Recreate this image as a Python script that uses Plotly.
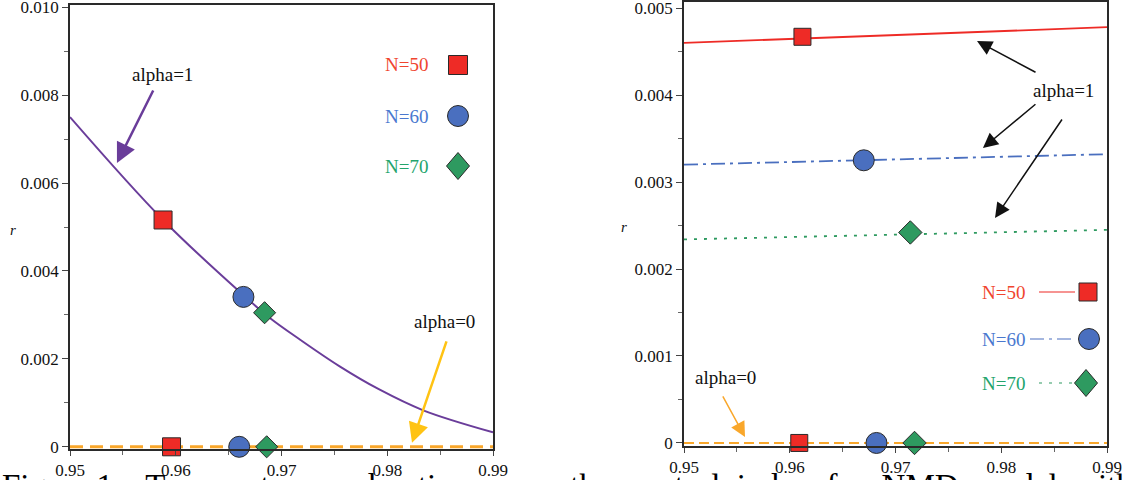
import plotly.graph_objects as go

W, H = 1123, 480

# ---------------- data ----------------
# left panel: alpha=1 curve
left_curve_x = [0.9500, 0.9588, 0.9664, 0.9689, 0.9718, 0.9755, 0.9792, 0.9834, 0.9900]
left_curve_r = [0.00750, 0.00516, 0.00345, 0.00293, 0.00243, 0.00183, 0.00131, 0.00083, 0.00033]
# left panel: alpha=0 line
left_zero_x = [0.95, 0.99]
left_zero_r = [0.0, 0.0]
# left panel points (alpha=1, alpha=0) for N=50, 60, 70
left_a1_x = [0.9588, 0.9664, 0.9684]
left_a1_r = [0.00516, 0.00341, 0.00305]
left_a0_x = [0.9596, 0.9660, 0.9686]
left_a0_r = [0.0, 0.0, 0.0]

# right panel: alpha=1 lines for N=50, 60, 70
right_line_x = [0.95, 0.99]
right_n50_r = [0.00460, 0.00478]
right_n60_r = [0.00320, 0.00332]
right_n70_r = [0.00234, 0.00245]
right_zero_r = [0.0, 0.0]
# right panel points
right_a1_x = [0.9612, 0.9670, 0.9714]
right_a1_r = [0.00467, 0.00325, 0.00242]
right_a0_x = [0.9609, 0.9682, 0.9718]
right_a0_r = [0.0, 0.0, 0.0]

series_names = ["N=50", "N=60", "N=70"]
x_ticks = [0.95, 0.96, 0.97, 0.98, 0.99]
x_tick_text = ["0.95", "0.96", "0.97", "0.98", "0.99"]
left_y_ticks = [0, 0.002, 0.004, 0.006, 0.008, 0.010]
left_y_text = ["0", "0.002", "0.004", "0.006", "0.008", "0.010"]
right_y_ticks = [0, 0.001, 0.002, 0.003, 0.004, 0.005]
right_y_text = ["0", "0.001", "0.002", "0.003", "0.004", "0.005"]

caption = ("Figure 1.\u00a0\u00a0 Temperature\u00a0 and\u00a0 ratio\u00a0 versus\u00a0 the\u00a0 "
           "control\u00a0 index\u00a0 for\u00a0 NMD\u00a0 model\u00a0 with")

# ---------------- styles ----------------
RED = "#EE2B26"
BLUE = "#4A6FBF"
GREEN = "#2E9A60"
PURPLE = "#6A3D9A"
ORANGE = "#F9A72B"
YELLOW = "#FFC313"
TXT_RED = "#F0452F"
TXT_BLUE = "#4A78CF"
TXT_GREEN = "#23A46C"
SERIF = "Liberation Serif"
marker_symbols = ["square", "circle", "diamond"]
marker_colors = [RED, BLUE, GREEN]
marker_sizes = [18, 21, 17]

fig = go.Figure()

# left panel
fig.add_trace(go.Scatter(x=left_zero_x, y=left_zero_r, mode="lines",
                         line=dict(color=ORANGE, width=3, dash="13px,7px"),
                         xaxis="x", yaxis="y", showlegend=False))
fig.add_trace(go.Scatter(x=left_curve_x, y=left_curve_r, mode="lines",
                         line=dict(color=PURPLE, width=2, shape="spline", smoothing=1.0),
                         xaxis="x", yaxis="y", showlegend=False))
for i in range(3):
    for xs, ys in ((left_a1_x, left_a1_r), (left_a0_x, left_a0_r)):
        fig.add_trace(go.Scatter(x=[xs[i]], y=[ys[i]], mode="markers", name=series_names[i],
                                 marker=dict(symbol=marker_symbols[i], size=marker_sizes[i],
                                             color=marker_colors[i],
                                             line=dict(color="#2a2a2a", width=1)),
                                 xaxis="x", yaxis="y", showlegend=False, cliponaxis=False))

# right panel
fig.add_trace(go.Scatter(x=right_line_x, y=right_zero_r, mode="lines",
                         line=dict(color=ORANGE, width=2, dash="10px,5px"),
                         xaxis="x2", yaxis="y2", showlegend=False))
right_lines = [right_n50_r, right_n60_r, right_n70_r]
right_dash = ["solid", "14px,5px,3px,5px", "3px,7px"]
for i in range(3):
    fig.add_trace(go.Scatter(x=right_line_x, y=right_lines[i], mode="lines",
                             line=dict(color=marker_colors[i], width=1.8, dash=right_dash[i]),
                             xaxis="x2", yaxis="y2", showlegend=False))
right_sizes = [17, 21, 18]
for i in range(3):
    for xs, ys in ((right_a1_x, right_a1_r), (right_a0_x, right_a0_r)):
        fig.add_trace(go.Scatter(x=[xs[i]], y=[ys[i]], mode="markers", name=series_names[i],
                                 marker=dict(symbol=marker_symbols[i], size=right_sizes[i],
                                             color=marker_colors[i],
                                             line=dict(color="#2a2a2a", width=1)),
                                 xaxis="x2", yaxis="y2", showlegend=False, cliponaxis=False))

# ---------------- axes ----------------
def px_x(p):
    return p / W

def px_y(p):
    return 1 - p / H

axis_common = dict(showline=True, linecolor="#2a2a2a", linewidth=1.5, mirror=True,
                   ticks="outside", ticklen=6, tickwidth=1, tickcolor="#444",
                   showgrid=False, zeroline=False, automargin=False,
                   ticklabeloverflow="allow",
                   tickfont=dict(family=SERIF, size=17, color="#111"))

fig.update_layout(
    width=W, height=H, margin=dict(l=0, r=0, t=0, b=0, autoexpand=False),
    paper_bgcolor="white", plot_bgcolor="white", showlegend=False,
    xaxis=dict(axis_common, domain=[px_x(70), px_x(493)], range=[0.95, 0.99],
               tickmode="array", tickvals=x_ticks, ticktext=x_tick_text, anchor="y", ticklen=5,
               minor=dict(ticks="outside", ticklen=4, tick0=0.95, dtick=0.005, tickcolor="#666")),
    yaxis=dict(axis_common, domain=[px_y(449), px_y(5)], range=[-0.00005, 0.01005],
               tickmode="array", tickvals=left_y_ticks, ticktext=left_y_text, anchor="x",
               minor=dict(ticks="outside", ticklen=4, tick0=0, dtick=0.001, tickcolor="#666")),
    xaxis2=dict(axis_common, domain=[px_x(684), px_x(1107)], range=[0.95, 0.99],
                tickmode="array", tickvals=x_ticks, ticktext=x_tick_text, anchor="y2", ticklen=5,
                minor=dict(ticks="outside", ticklen=4, tick0=0.95, dtick=0.005, tickcolor="#666")),
    yaxis2=dict(axis_common, domain=[px_y(446), px_y(2)], range=[-0.000035, 0.00507],
                tickmode="array", tickvals=right_y_ticks, ticktext=right_y_text, anchor="x2",
                minor=dict(ticks="outside", ticklen=4, tick0=0, dtick=0.0005, tickcolor="#666")),
)

# ---------------- annotations ----------------
ann = []
def txt(x, y, s, color="#111", size=19, xref="x", yref="y", xanchor="center", yanchor="middle"):
    ann.append(dict(x=x, y=y, xref=xref, yref=yref, text=s, showarrow=False,
                    xanchor=xanchor, yanchor=yanchor,
                    font=dict(family=SERIF, size=size, color=color)))

def arrow(x, y, ax, ay, color, width, size, xref="x", yref="y"):
    ann.append(dict(x=x, y=y, xref=xref, yref=yref, ax=ax, ay=ay, text="",
                    showarrow=True, arrowhead=2, arrowsize=size, arrowwidth=width,
                    arrowcolor=color, standoff=0, startstandoff=0))

# left
txt(0.9587, 0.008477, "alpha=1")
arrow(0.95444, 0.006455, 37, -74, PURPLE, 2.5, 1.6)
txt(0.98546, 0.00284, "alpha=0")
arrow(0.98234, 0.00009, 35, -103, YELLOW, 2.5, 1.6)
# right
txt(0.98584, 0.004057, "alpha=1", xref="x2", yref="y2")
arrow(0.97771, 0.004621, 60, 32, "#111", 1.5, 2.0, "x2", "y2")
arrow(0.97827, 0.003391, 54, -45, "#111", 1.5, 2.0, "x2", "y2")
arrow(0.97941, 0.002586, 68, -100, "#111", 1.5, 2.0, "x2", "y2")
txt(0.95388, 0.000747, "alpha=0", xref="x2", yref="y2")
arrow(0.95577, 0.000069, -23, -42, ORANGE, 1.5, 2.0, "x2", "y2")

# axis labels "r"
txt(px_x(13), px_y(230), "<i>r</i>", size=15, xref="paper", yref="paper")
txt(px_x(624), px_y(227), "<i>r</i>", size=15, xref="paper", yref="paper")

# legends (text left of symbols)
txt_colors = [TXT_RED, TXT_BLUE, TXT_GREEN]
left_leg_y = [65, 116, 166]
right_leg_y = [292, 339, 383]
for i in range(3):
    txt(px_x(430), px_y(left_leg_y[i]), series_names[i], color=txt_colors[i],
        xref="paper", yref="paper", xanchor="right")
    txt(px_x(1027), px_y(right_leg_y[i]), series_names[i], color=txt_colors[i],
        xref="paper", yref="paper", xanchor="right")

# caption (cut off at the bottom edge)
ann.append(dict(x=0, y=px_y(466), xref="paper", yref="paper", text=caption, showarrow=False,
                xanchor="left", yanchor="top",
                font=dict(family=SERIF, size=33, color="#000")))

# legend glyph shapes
shapes = []
def glyph(kind, cx, cy, color, w=9, h=9):
    base = dict(xref="paper", yref="paper", xsizemode="pixel", ysizemode="pixel",
                xanchor=px_x(cx), yanchor=px_y(cy), fillcolor=color,
                line=dict(color="#2a2a2a", width=1))
    if kind == "square":
        base.update(type="rect", x0=-w, x1=w, y0=-h, y1=h)
    elif kind == "circle":
        base.update(type="circle", x0=-w, x1=w, y0=-h, y1=h)
    else:
        base.update(type="path", path=f"M0,{h} L{w},0 L0,{-h} L{-w},0 Z")
    shapes.append(base)

glyph("square", 458, 65, RED, 9.5, 9.5)
glyph("circle", 458, 116, BLUE, 10.5, 10.5)
glyph("diamond", 458, 166, GREEN, 11.5, 13.5)
glyph("square", 1088, 292, RED, 9, 9)
glyph("circle", 1089, 339, BLUE, 10.5, 10.5)
glyph("diamond", 1086, 383, GREEN, 11.5, 13.5)

seg = [(1039, 1075, 292, "solid"), (1030, 1075, 339, "14px,5px,3px,5px"), (1039, 1075, 383, "3px,7px")]
for i, (x0, x1, yy, d) in enumerate(seg):
    shapes.insert(0, dict(type="line", xref="paper", yref="paper", x0=px_x(x0), x1=px_x(x1),
                          y0=px_y(yy), y1=px_y(yy),
                          line=dict(color=marker_colors[i], width=1.2, dash=d)))

fig.update_layout(annotations=ann, shapes=shapes)

fig.write_html("out.html", config={"displayModeBar": False},
               post_script="document.body.style.margin='0';document.body.style.overflow='hidden';")
